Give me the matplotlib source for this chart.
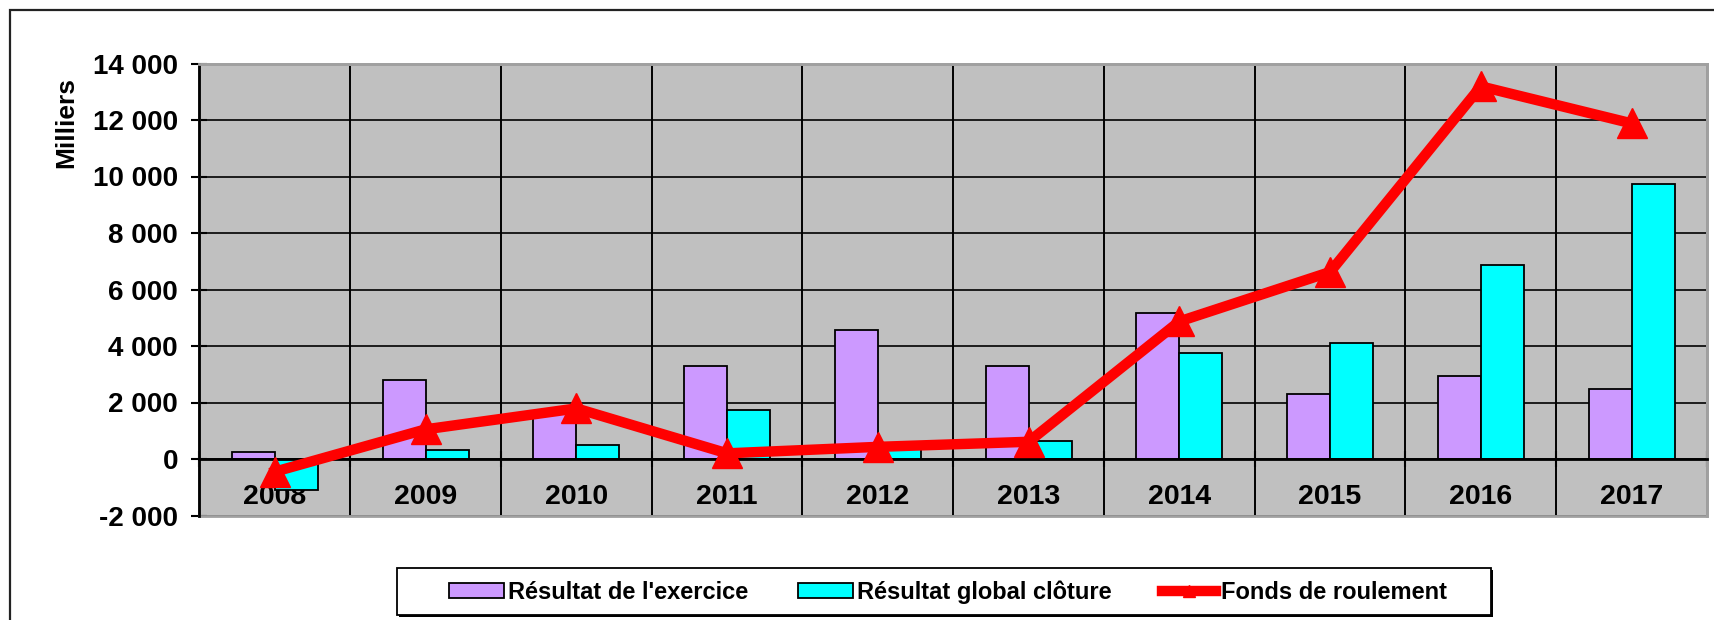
import matplotlib
matplotlib.use("Agg")
import matplotlib.pyplot as plt
from matplotlib.patches import Rectangle
from matplotlib.ticker import FuncFormatter, FixedLocator
import numpy as np

years = ["2008", "2009", "2010", "2011", "2012", "2013", "2014", "2015", "2016", "2017"]
resultat_exercice = [250, 2800, 1650, 3300, 4560, 3300, 5180, 2300, 2930, 2490]
resultat_global = [-1100, 310, 500, 1750, 350, 620, 3740, 4100, 6860, 9740]
fonds_roulement = [-450, 1050, 1790, 200, 430, 610, 4870, 6620, 13190, 11880]

labels = ["Résultat de l'exercice", "Résultat global clôture", "Fonds de roulement"]

plt.rcParams['font.family'] = ['Liberation Sans', 'DejaVu Sans']
plt.rcParams['font.weight'] = 'bold'

W, H = 1715, 620
fig = plt.figure(figsize=(W / 100, H / 100), dpi=100)
fig.patch.set_facecolor('white')

# outer chart frame (extends beyond the right/bottom edges)
fig.patches.append(Rectangle((10 / W, -0.1), 1.2, 1 - 10 / H + 0.1, transform=fig.transFigure,
                             fill=False, edgecolor='#222222', lw=1.6, zorder=0))

ax = fig.add_axes([199.5 / W, 1 - 515.5 / H, (1707 - 199.5) / W, (515.5 - 63.5) / H])
ax.set_facecolor('#C0C0C0')

x = np.arange(len(years))
bw = 0.285
b1 = ax.bar(x - bw / 2, resultat_exercice, bw, color='#CC99FF', edgecolor='black', lw=1.3,
            label=labels[0], zorder=3)
b2 = ax.bar(x + bw / 2, resultat_global, bw, color='#00FFFF', edgecolor='black', lw=1.3,
            label=labels[1], zorder=3)
ln, = ax.plot(x, fonds_roulement, color='#FF0000', lw=7.5, marker='^', markersize=22,
              label=labels[2], zorder=5, solid_joinstyle='miter')

ax.set_xlim(-0.5, len(years) - 0.5)
ax.set_ylim(-2000, 14000)

# y axis
ax.yaxis.set_major_locator(FixedLocator(np.arange(-2000, 14001, 2000)))
ax.yaxis.set_major_formatter(FuncFormatter(lambda v, p: f"{int(v):,}".replace(",", " ")))
ax.tick_params(axis='y', direction='inout', length=11, width=1.5, pad=10, labelsize=20)
for t in ax.get_yticklabels():
    t.set_fontweight('bold')

# x axis at zero
ax.spines['bottom'].set_position(('data', 0))
ax.spines['bottom'].set_linewidth(2)
ax.spines['bottom'].set_zorder(4)
ax.set_xticks(np.arange(-0.5, len(years), 1.0))
ax.set_xticklabels([])
ax.set_xticks(x, minor=True)
ax.set_xticklabels(years, minor=True, fontsize=20.5, fontweight='bold')
ax.tick_params(axis='x', which='major', direction='inout', length=12, width=1.5)
ax.tick_params(axis='x', which='minor', length=0, pad=18)

ax.spines['left'].set_linewidth(2)
ax.spines['left'].set_color('black')
for s in ['top', 'right']:
    ax.spines[s].set_color('#A0A0A0')
    ax.spines[s].set_linewidth(2)
ax.add_patch(Rectangle((0, 0), 1, 1, transform=ax.transAxes, fill=False,
                       edgecolor='#A0A0A0', lw=2, zorder=1, clip_on=False))

ax.grid(True, axis='y', which='major', color='black', lw=1.2, zorder=1)
ax.grid(True, axis='x', which='major', color='black', lw=1.4, zorder=1)
ax.set_axisbelow(True)

fig.text(66.7 / W, 1 - 122 / H, "Milliers", rotation=90, ha='center', va='center',
         fontsize=19, fontweight='bold')

# legend box
fig.patches.append(Rectangle((399 / W, 1 - 617 / H), 1094 / W, 47 / H, transform=fig.transFigure,
                             facecolor='black', edgecolor='none', zorder=1))
fig.patches.append(Rectangle((397 / W, 1 - 615 / H), 1094 / W, 47 / H, transform=fig.transFigure,
                             facecolor='white', edgecolor='black', lw=1.3, zorder=2))
leg = fig.legend([b1, b2, ln], labels, loc='center', bbox_to_anchor=(948 / W, 1 - 592 / H),
                 ncol=3, frameon=False, fontsize=17, handlelength=2.3, handleheight=0.55,
                 handletextpad=0.2, columnspacing=2.1, markerscale=0.4, borderaxespad=0)
leg.set_zorder(10)
for t in leg.get_texts():
    t.set_fontweight('bold')

fig.savefig("out.png", dpi=100)
